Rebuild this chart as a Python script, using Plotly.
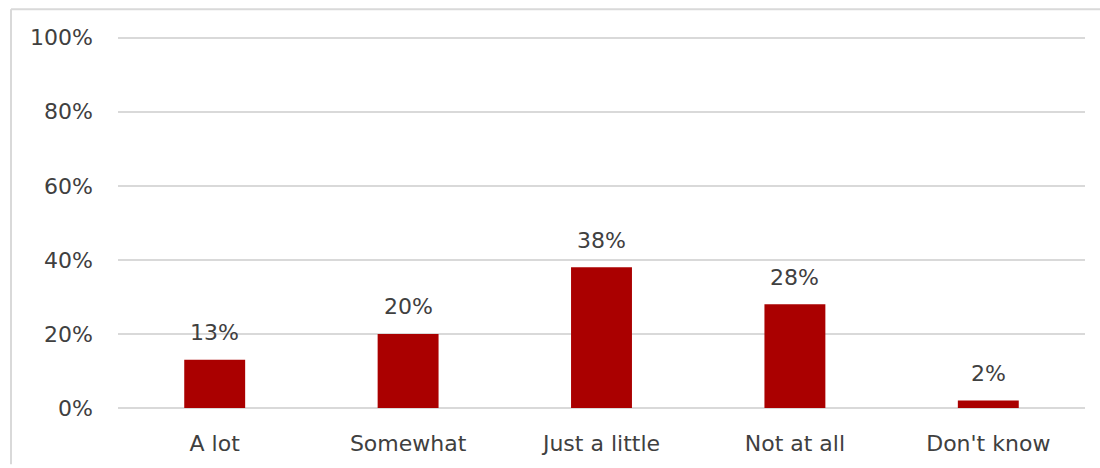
import plotly.graph_objects as go

categories = ["A lot", "Somewhat", "Just a little", "Not at all", "Don't know"]
values = [13, 20, 38, 28, 2]
tick_vals = [0, 20, 40, 60, 80, 100]
tick_text = ["0%", "20%", "40%", "60%", "80%", "100%"]

FONT = "DejaVu Sans"
TXT = "#404040"
FS = 22

L, R, T, B = 118, 15, 34, 55
W, H = 1100, 468
pw = W - L - R
ph = H - T - B

fig = go.Figure(go.Bar(
    x=categories, y=values,
    marker=dict(color="#AA0000", line=dict(width=0)),
    width=0.315,
    cliponaxis=False,
))

for c, v in zip(categories, values):
    fig.add_annotation(x=c, y=v, text=f"{v}%", showarrow=False,
                       yanchor="middle", yshift=27,
                       font=dict(family=FONT, size=FS, color=TXT))

fig.update_layout(
    width=W, height=H,
    margin=dict(l=L, r=R, t=T, b=B),
    paper_bgcolor="white", plot_bgcolor="white",
    showlegend=False,
    font=dict(family=FONT, size=FS, color=TXT),
)
fig.update_yaxes(
    range=[0, 101], tickvals=tick_vals, ticktext=tick_text,
    showgrid=True, gridcolor="#d9d9d9", gridwidth=1.5,
    zeroline=True, zerolinecolor="#d9d9d9", zerolinewidth=1.5,
    showline=False, ticks="", ticklabelstandoff=24,
    tickfont=dict(family=FONT, size=FS, color=TXT),
)
fig.update_xaxes(
    showgrid=False, showline=False, ticks="",
    tickfont=dict(family=FONT, size=FS, color=TXT),
    ticklabelstandoff=20,
)

def px_x(x):
    return (x - L) / pw

def px_y(y):
    return 1 - (y - T) / ph

border = dict(color="#d9d9d9", width=2)
fig.add_shape(type="line", xref="paper", yref="paper",
              x0=px_x(11), x1=px_x(11), y0=px_y(9), y1=px_y(470), line=border)
fig.add_shape(type="line", xref="paper", yref="paper",
              x0=px_x(11), x1=px_x(1102), y0=px_y(9), y1=px_y(9), line=border)

fig.write_html("out.html")
